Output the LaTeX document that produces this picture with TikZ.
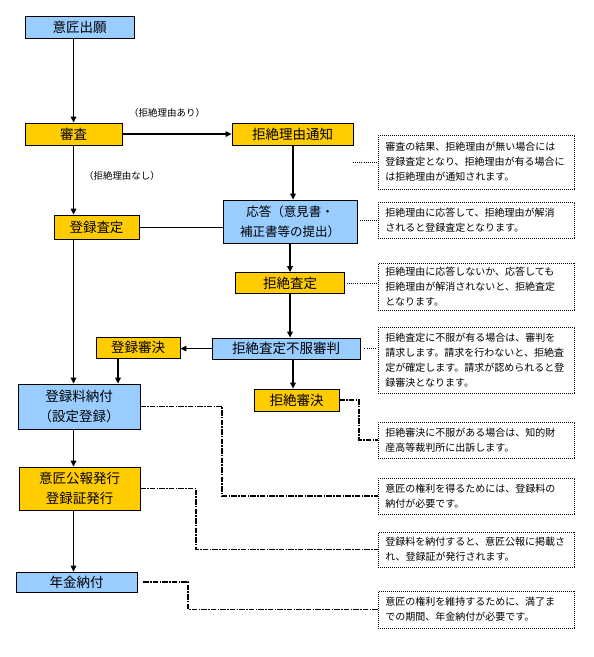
\documentclass[tikz,border=0pt]{standalone}
\usepackage{fontspec}
\setmainfont{Noto Sans CJK JP}
\usetikzlibrary{arrows.meta,calc}
\definecolor{boxblue}{HTML}{99CCFF}
\definecolor{boxyellow}{HTML}{FFCC00}
\begin{document}
\begin{tikzpicture}[x=1pt,y=-1pt,
  box/.style={draw=black, line width=0.8pt, minimum height=22pt, inner sep=0pt,
    font=\fontsize{13.5}{20}\selectfont, align=center},
  bluebox/.style={box, fill=boxblue},
  yellowbox/.style={box, fill=boxyellow},
  note/.style={draw=black, line width=0.8pt, dash pattern=on 0.9pt off 1.1pt, fill=white,
    text width=182pt, inner xsep=7pt, inner ysep=0pt, align=left,
    font=\fontsize{10}{15}\selectfont, anchor=west},
  lbl/.style={inner sep=1pt, font=\fontsize{9.5}{12}\selectfont},
  arr/.style={line width=1.3pt, -{Triangle[length=6pt,width=5.5pt]}},
  plainline/.style={line width=1pt},
  thindot/.style={line width=1pt, dash pattern=on 1pt off 1.1pt},
  thickdd/.style={line width=1.9pt, dash pattern=on 5.5pt off 1.2pt on 1.6pt off 1.2pt}
]
\fill[white] (0,0) rectangle (594,657);
\useasboundingbox (0,0) rectangle (594,657);

% main boxes
\node[bluebox, minimum width=109pt] (shutsugan) at (79.5,27) {意匠出願};
\node[yellowbox, minimum width=97pt] (shinsa) at (73.5,134) {審査};
\node[yellowbox, minimum width=121pt] (tsuchi) at (292.5,134) {拒絶理由通知};
\node[yellowbox, minimum width=85pt, minimum height=24pt] (satei) at (96.5,227) {登録査定};
\node[bluebox, minimum width=134pt, minimum height=43pt, font=\fontsize{12.5}{20}\selectfont] (outo) at (290,221.5) {応答（意見書・\\補正書等の提出）};
\node[yellowbox, minimum width=109pt, minimum height=21pt] (ksatei) at (290,283) {拒絶査定};
\node[bluebox, minimum width=148pt, minimum height=21pt] (fufuku) at (286,348.5) {拒絶査定不服審判};
\node[yellowbox, minimum width=84pt, minimum height=21pt] (tshin) at (138,347.5) {登録審決};
\node[yellowbox, minimum width=85pt] (kshin) at (296.5,400) {拒絶審決};
\node[bluebox, minimum width=122pt, minimum height=45pt] (ryokin) at (79,406.5) {登録料納付\\（設定登録）};
\node[yellowbox, minimum width=121pt, minimum height=43pt] (koho) at (79.5,488.5) {意匠公報発行\\登録証発行};
\node[bluebox, minimum width=121pt, minimum height=20pt] (nenkin) at (76.5,582) {年金納付};

% labels
\node[lbl] (lari) at (167,113) {（拒絶理由あり）};
\node[lbl] (lnashi) at (122,176) {（拒絶理由なし）};

% columns
\coordinate (colL) at (73.5,0);
\coordinate (colR) at (293,0);
\coordinate (colM) at (118,0);

% arrows
\draw[arr] (shutsugan.south -| colL) -- (shinsa.north -| colL);
\draw[arr] (shinsa.east) -- (tsuchi.west);
\draw[arr] (shinsa.south -| colL) -- (satei.north -| colL);
\draw[arr] (tsuchi.south -| colR) -- (outo.north -| colR);
\draw[plainline] (outo.west |- satei.east) -- (satei.east);
\draw[arr] (outo.south -| ksatei) -- (ksatei.north);
\draw[arr] (ksatei.south) -- (fufuku.north -| ksatei);
\draw[arr] (fufuku.west) -- (tshin.east |- fufuku.west);
\draw[arr] (fufuku.south -| colR) -- (kshin.north -| colR);
\draw[arr] (tshin.south -| colM) -- (ryokin.north -| colM);
\draw[arr] (satei.south -| colL) -- (ryokin.north -| colL);
\draw[arr] (ryokin.south -| colL) -- (koho.north -| colL);
\draw[arr] (koho.south -| colL) -- (nenkin.north -| colL);

% notes
\node[note, minimum height=54pt] (n1) at (378,162) {審査の結果、拒絶理由が無い場合には\\登録査定となり、拒絶理由が有る場合に\\は拒絶理由が通知されます。};
\node[note, minimum height=36pt] (n2) at (378,220) {拒絶理由に応答して、拒絶理由が解消\\されると登録査定となります。};
\node[note, minimum height=47pt] (n3) at (378,286.5) {拒絶理由に応答しないか、応答しても\\拒絶理由が解消されないと、拒絶査定\\となります。};
\node[note, minimum height=66pt] (n4) at (378,360) {拒絶査定に不服が有る場合は、審判を\\請求します。請求を行わないと、拒絶査\\定が確定します。請求が認められると登\\録審決となります。};
\node[note, minimum height=36pt] (n5) at (378,440) {拒絶審決に不服がある場合は、知的財\\産高等裁判所に出訴します。};
\node[note, minimum height=36pt] (n6) at (378,496) {意匠の権利を得るためには、登録料の\\納付が必要です。};
\node[note, minimum height=35pt] (n7) at (378,549.5) {登録料を納付すると、意匠公報に掲載さ\\れ、登録証が発行されます。};
\node[note, minimum height=37pt] (n8) at (378,609.5) {意匠の権利を維持するために、満了ま\\での期間、年金納付が必要です。};

% note connectors
\coordinate (n1start) at (353,162);
\draw[thindot] (n1start) -- (n1.west);
\draw[thindot] (n2.west -| outo.east) -- (n2.west);
\draw[thindot] ([xshift=2pt]ksatei.east) -- (n3.west |- ksatei.east);
\draw[thindot] ([xshift=4pt]fufuku.east) -- ([xshift=-3pt]n4.west |- fufuku.east);
\draw[thickdd] (kshin.east) -- ++(20,0) |- (n5.west);
\draw[thickdd] (ryokin.east) -- ++(82,0) |- (n6.west);
\draw[thickdd] (koho.east) -- ++(56,0) |- (n7.west);
\draw[thickdd] ([xshift=6pt]nenkin.east) -- ++(45,0) |- (n8.west);
\end{tikzpicture}
\end{document}
